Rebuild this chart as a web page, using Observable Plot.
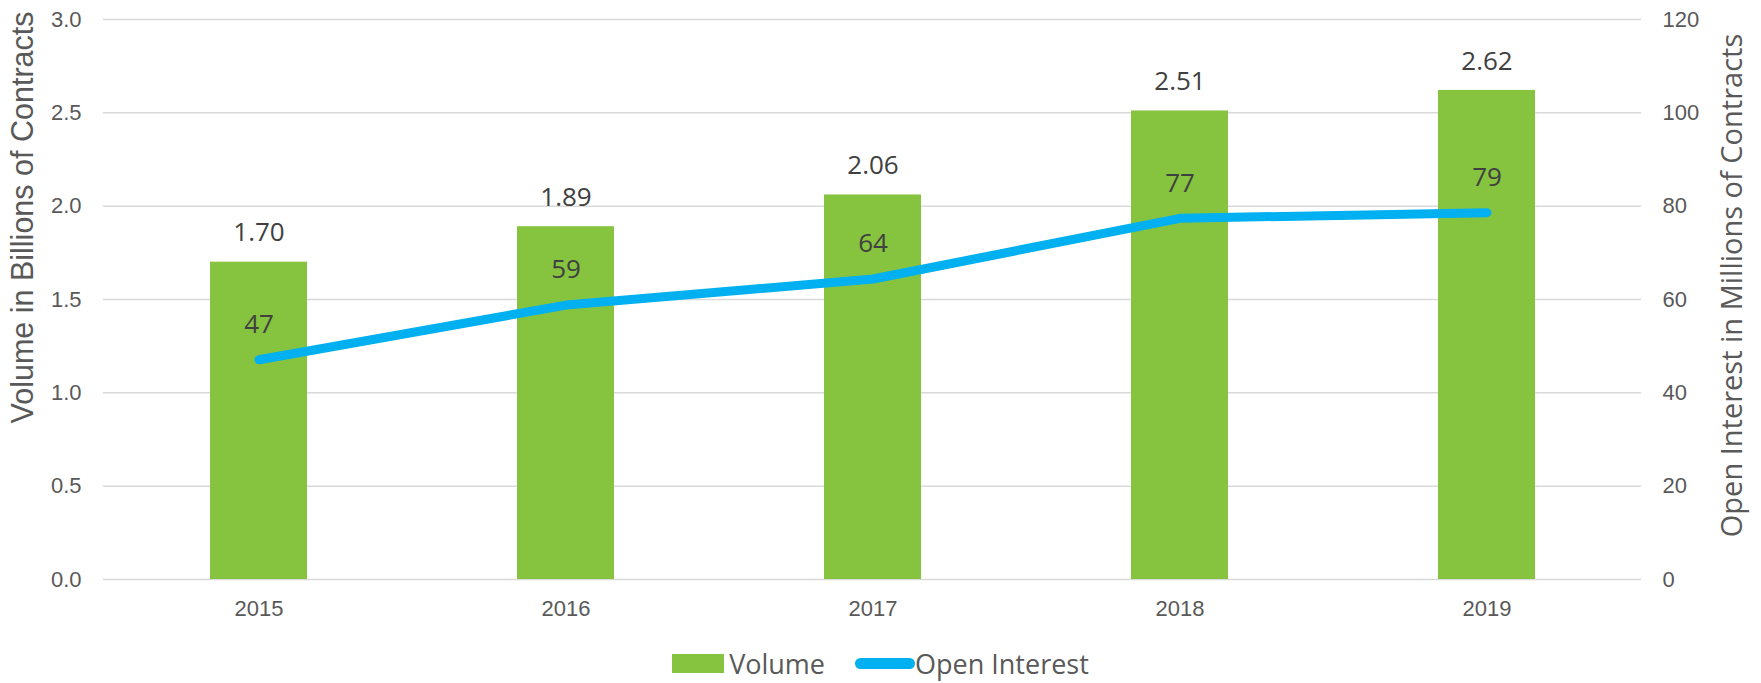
<!DOCTYPE html>
<html>
<head>
<meta charset="utf-8">
<script src="https://cdn.jsdelivr.net/npm/d3@7"></script>
<script src="https://cdn.jsdelivr.net/npm/@observablehq/plot@0.6"></script>
<style>
  html, body { margin: 0; padding: 0; background: #fff; }
  #chart { width: 1761px; }
  .legend { display: flex; justify-content: center; align-items: center; height: 43px; padding-top: 4px; box-sizing: border-box;
    font-family: "Open Sans", "Noto Sans", sans-serif; font-size: 27px; color: #595959; }
  .legend .item { display: flex; align-items: center; }
  .sw-bar { width: 52px; height: 19px; background: #86C440; margin-right: 5px; }
  .sw-line { width: 60px; height: 11px; border-radius: 6px; background: #00B0F0; margin-left: 30px; margin-right: 0px; }
</style>
</head>
<body>
<div id="chart"></div>
<script>
const years = ["2015", "2016", "2017", "2018", "2019"];
const volume = [1.70, 1.89, 2.06, 2.51, 2.62];           // billions of contracts
const openInterest = [47.1, 58.8, 64.4, 77.4, 78.6];    // millions of contracts
const volumeTicks = [0, 0.5, 1.0, 1.5, 2.0, 2.5, 3.0];
const oiPerVolumeUnit = 40; // right axis 0–120 maps to left axis 0–3.0
const leftTitle = "Volume in Billions of Contracts";
const rightTitle = "Open Interest in Millions of Contracts";

const rows = years.map((year, i) => ({year, vol: volume[i], oi: openInterest[i]}));

const tickFont = "'Liberation Sans', Arial, sans-serif";
const labelFont = "'Open Sans', 'Noto Sans', sans-serif";

const chart = Plot.plot({
  width: 1761,
  height: 640,
  marginTop: 19,
  marginBottom: 61,
  marginLeft: 103,
  marginRight: 120,
  style: {background: "#fff", color: "#595959"},
  x: {domain: years, paddingInner: 0.685, paddingOuter: 0.3425, label: null},
  y: {domain: [0, 3], label: null},
  marks: [
    Plot.gridY(volumeTicks, {stroke: "#d9d9d9", strokeOpacity: 1, strokeWidth: 1.5}),
    Plot.barY(rows, {x: "year", y: "vol", fill: "#86C440"}),
    Plot.line(rows, {x: "year", y: d => d.oi / oiPerVolumeUnit, stroke: "#00B0F0", strokeWidth: 9, strokeLinecap: "round", strokeLinejoin: "round"}),
    Plot.text(rows, {x: "year", y: "vol", text: d => d.vol.toFixed(2), dy: -29, lineAnchor: "middle", fontSize: 26, fontFamily: labelFont, fill: "#404040"}),
    Plot.text(rows, {x: "year", y: d => d.oi / oiPerVolumeUnit, text: d => String(Math.round(d.oi)), dy: -35, lineAnchor: "middle", fontSize: 26, fontFamily: labelFont, fill: "#404040"}),
    Plot.axisY(volumeTicks, {anchor: "left", tickSize: 0, tickPadding: 22, tickFormat: d => d.toFixed(1), fontSize: 22, fontFamily: tickFont, fill: "#595959", label: null}),
    Plot.axisY(volumeTicks, {anchor: "right", tickSize: 0, tickPadding: 21, tickFormat: d => String(Math.round(d * oiPerVolumeUnit)), fontSize: 22, fontFamily: tickFont, fill: "#595959", label: null}),
    Plot.axisX({anchor: "bottom", tickSize: 0, tickPadding: 21, fontSize: 22, fontFamily: tickFont, fill: "#595959", label: null}),
    Plot.text([leftTitle], {text: d => d, frameAnchor: "left", textAnchor: "middle", dx: -80, dy: -82, rotate: -90, lineAnchor: "middle", fontSize: 30.5, fontFamily: tickFont, fill: "#595959"}),
    Plot.text([rightTitle], {text: d => d, frameAnchor: "right", textAnchor: "middle", dx: 91, dy: -14, rotate: -90, lineAnchor: "middle", fontSize: 29, fontFamily: labelFont, fill: "#595959"})
  ]
});
document.getElementById("chart").appendChild(chart);

const legend = document.createElement("div");
legend.className = "legend";
legend.innerHTML = `<div class="item"><div class="sw-bar"></div><span>Volume</span></div>
<div class="item"><div class="sw-line"></div><span>Open Interest</span></div>`;
document.getElementById("chart").appendChild(legend);
</script>
</body>
</html>
